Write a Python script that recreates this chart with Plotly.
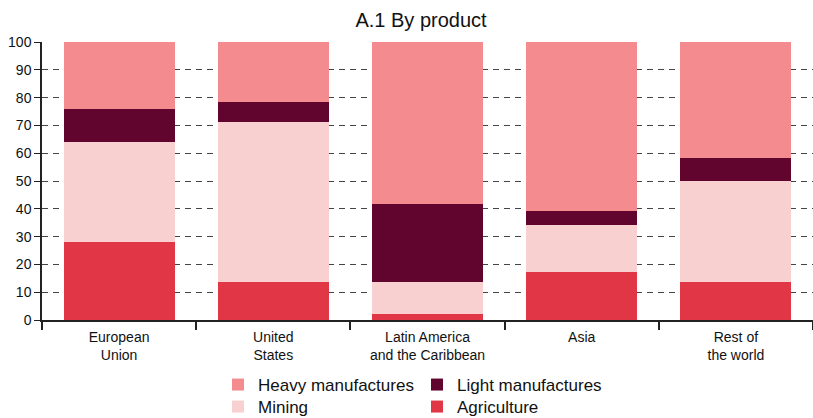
import plotly.graph_objects as go

# Regions shown on the x axis
regions = ["European<br>Union", "United<br>States", "Latin America<br>and the Caribbean", "Asia", "Rest of<br>the world"]

# Share of exports by product (%), stacked bottom to top
agriculture = [28.0, 13.7, 2.2, 17.1, 13.7]
mining = [36.0, 57.7, 11.5, 17.1, 36.2]
light_manufactures = [12.0, 6.9, 28.1, 4.9, 8.5]
heavy_manufactures = [24.0, 21.7, 58.2, 60.9, 41.6]

FONT = "Liberation Sans, Arial, sans-serif"

series = [
    ("Agriculture", agriculture, "#E03645", "legend2", 2),
    ("Mining", mining, "#F9D0D0", "legend2", 1),
    ("Light manufactures", light_manufactures, "#62052E", "legend", 2),
    ("Heavy manufactures", heavy_manufactures, "#F48C8F", "legend", 1),
]

fig = go.Figure()
for name, vals, color, leg, rank in series:
    fig.add_trace(go.Bar(
        x=regions, y=vals, name=name, legend=leg, legendrank=rank,
        marker=dict(color=color, line=dict(width=0)),
        hovertemplate="%{y:.1f}%<extra>" + name + "</extra>",
    ))

legend_common = dict(
    orientation="h", xref="container", yref="container",
    xanchor="left", yanchor="middle", entrywidth=154, entrywidthmode="pixels",
    font=dict(family=FONT, size=17, color="#111"),
    traceorder="normal", itemclick=False, itemdoubleclick=False,
    bgcolor="rgba(0,0,0,0)",
)

fig.update_layout(
    width=813, height=418,
    margin=dict(l=42, r=0, t=42, b=98),
    paper_bgcolor="white", plot_bgcolor="white",
    barmode="stack", bargap=0.28,
    font=dict(family=FONT, size=14, color="#111"),
    title=dict(text="A.1 By product", x=421 / 813, xanchor="center", y=1 - 20 / 418, yanchor="middle",
               font=dict(size=20, color="#111")),
    showlegend=True,
    legend=dict(x=218 / 813, y=1 - 385 / 418, **legend_common),
    legend2=dict(x=218 / 813, y=1 - 407 / 418, **legend_common),
    xaxis=dict(
        showline=True, linecolor="#222", linewidth=1.5,
        ticks="outside", tickson="boundaries", ticklen=8, tickcolor="#222", tickwidth=1.5,
        showgrid=False, tickfont=dict(size=14), ticklabelstandoff=3,
    ),
    yaxis=dict(
        range=[0, 100], tickvals=list(range(0, 101, 10)),
        showline=True, linecolor="#222", linewidth=1.5,
        ticks="outside", ticklen=6, tickcolor="#222",
        showgrid=True, gridcolor="#444", gridwidth=1, griddash="6px,5px",
        zeroline=False, tickfont=dict(size=14),
    ),
)

fig.write_html("out.html")
